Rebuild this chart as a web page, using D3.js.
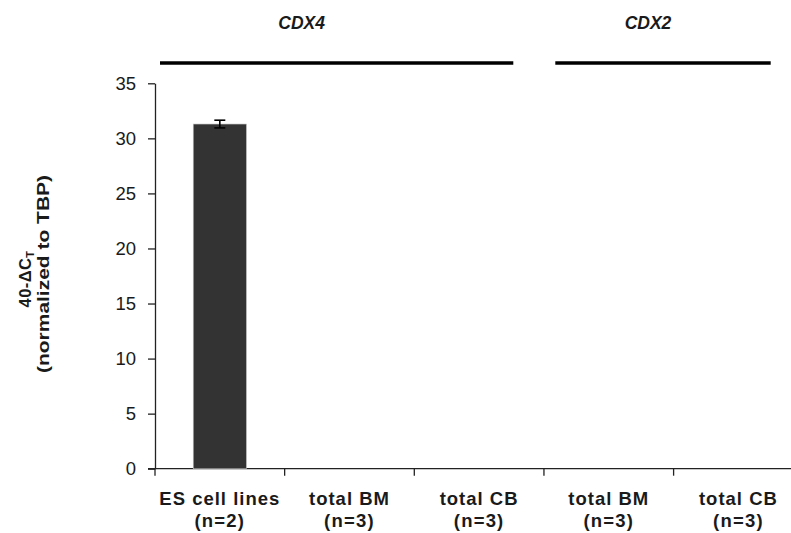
<!DOCTYPE html>
<html>
<head>
<meta charset="utf-8">
<script src="https://cdn.jsdelivr.net/npm/d3@7"></script>
<style>
  html, body { margin: 0; padding: 0; background: #fff; }
  svg { display: block; }
  text { font-family: "Liberation Sans", Arial, sans-serif; fill: #1a1a1a; }
</style>
</head>
<body>
<script>
// Expression data: one bar per sample group
const categories = ["ES cell lines", "total BM", "total CB", "total BM", "total CB"];
const sampleSizes = ["(n=2)", "(n=3)", "(n=3)", "(n=3)", "(n=3)"];
const values = [31.3, 0, 0, 0, 0];
const errors = [0.35, 0, 0, 0, 0];
const yTicks = [0, 5, 10, 15, 20, 25, 30, 35];

// Gene groups spanning the categories
const geneNames = ["CDX4", "CDX2"];

const W = 791, H = 533;
const svg = d3.select("body").append("svg").attr("width", W).attr("height", H);

const x0 = 155, bandW = 129.65;
const x = d3.scaleBand()
  .domain(d3.range(categories.length))
  .range([x0, x0 + bandW * categories.length])
  .padding(0);
const y = d3.scaleLinear().domain([0, 35]).range([468.7, 83.3]);

// Y axis
const yAxis = svg.append("g")
  .attr("transform", `translate(${x0},0)`)
  .call(d3.axisLeft(y).tickValues(yTicks).tickSize(7).tickPadding(12).tickSizeOuter(0));
yAxis.select(".domain").attr("stroke", "#222").attr("stroke-width", 1.3);
yAxis.selectAll(".tick line").attr("stroke", "#222").attr("stroke-width", 1.3);
yAxis.selectAll(".tick text")
  .attr("font-size", 18.5).attr("fill", "#1a1a1a")
  .style("font-family", "'Liberation Sans', Arial, sans-serif");

// X axis with ticks at band edges
const xAxisG = svg.append("g").attr("transform", `translate(0,${y(0)})`);
xAxisG.append("line")
  .attr("x1", x0 - 7).attr("x2", x0 + bandW * categories.length)
  .attr("stroke", "#222").attr("stroke-width", 1.3);
xAxisG.selectAll("line.tk")
  .data(d3.range(categories.length))
  .join("line").attr("class", "tk")
  .attr("x1", i => x(i)).attr("x2", i => x(i))
  .attr("y1", 0).attr("y2", 7)
  .attr("stroke", "#222").attr("stroke-width", 1.3);

// Category labels (name above, sample size below)
const lab = svg.append("g");
lab.selectAll("text.cat")
  .data(categories)
  .join("text").attr("class", "cat")
  .attr("x", (d, i) => x(i) + x.bandwidth() / 2)
  .attr("y", 505)
  .attr("text-anchor", "middle")
  .attr("font-size", 18.5).attr("font-weight", "bold")
  .attr("letter-spacing", 1)
  .text(d => d);
lab.selectAll("text.n")
  .data(sampleSizes)
  .join("text").attr("class", "n")
  .attr("x", (d, i) => x(i) + x.bandwidth() / 2)
  .attr("y", 526.5)
  .attr("text-anchor", "middle")
  .attr("font-size", 18.5).attr("font-weight", "bold")
  .attr("letter-spacing", 1.2)
  .text(d => d);

// Bars
const barW = x.bandwidth() * 0.41;
svg.append("g").selectAll("rect")
  .data(values)
  .join("rect")
  .attr("x", (d, i) => x(i) + (x.bandwidth() - barW) / 2)
  .attr("width", barW)
  .attr("y", d => y(d))
  .attr("height", d => y(0) - y(d))
  .attr("fill", "#333333")
  .attr("stroke", "#bdbdbd").attr("stroke-width", 0.6);

// Error bars
const eb = svg.append("g").attr("stroke", "#000").attr("stroke-width", 1.6);
values.forEach((v, i) => {
  if (!errors[i]) return;
  const cx = x(i) + x.bandwidth() / 2;
  eb.append("line").attr("x1", cx).attr("x2", cx).attr("y1", y(v + errors[i])).attr("y2", y(v - errors[i]));
  eb.append("line").attr("x1", cx - 5.5).attr("x2", cx + 5.5).attr("y1", y(v + errors[i])).attr("y2", y(v + errors[i]));
  eb.append("line").attr("x1", cx - 5.5).attr("x2", cx + 5.5).attr("y1", y(v - errors[i])).attr("y2", y(v - errors[i]));
});

// Gene group brackets and names
const groupLines = [[160, 513.3], [555.3, 770.7]];
const groupLabelX = [301.7, 648];
const gg = svg.append("g");
geneNames.forEach((g, k) => {
  gg.append("line")
    .attr("x1", groupLines[k][0]).attr("x2", groupLines[k][1])
    .attr("y1", 63).attr("y2", 63)
    .attr("stroke", "#000").attr("stroke-width", 3.4);
  gg.append("text")
    .attr("x", groupLabelX[k]).attr("y", 29)
    .attr("text-anchor", "middle")
    .attr("font-size", 17.5).attr("font-weight", "bold").attr("font-style", "italic")
    .text(g);
});

// Y axis title (two rotated lines)
const yt = svg.append("g").attr("transform", "rotate(-90)");
const l1 = yt.append("text").attr("x", -279).attr("y", 31)
  .attr("text-anchor", "middle").attr("font-size", 16.5).attr("font-weight", "bold")
  .attr("letter-spacing", 0.4);
l1.append("tspan").text("40-ΔC");
l1.append("tspan").attr("font-size", 11).attr("dy", 3).text("T");
yt.append("text").attr("x", -274).attr("y", 49)
  .attr("text-anchor", "middle").attr("font-size", 16.5).attr("font-weight", "bold")
  .attr("textLength", 198).attr("lengthAdjust", "spacingAndGlyphs")
  .text("(normalized to TBP)");
</script>
</body>
</html>
